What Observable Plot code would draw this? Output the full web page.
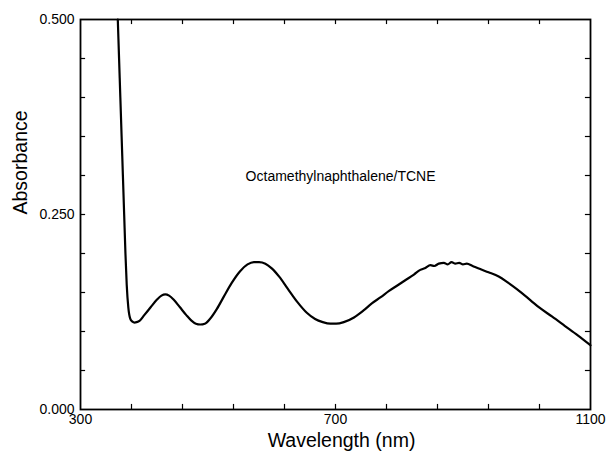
<!DOCTYPE html>
<html>
<head>
<meta charset="utf-8">
<script src="https://cdn.jsdelivr.net/npm/d3@7"></script>
<script src="https://cdn.jsdelivr.net/npm/@observablehq/plot@0.6"></script>
<style>
  html, body { margin: 0; padding: 0; background: #fff; }
  #chart svg { display: block; }
</style>
</head>
<body>
<div id="chart"></div>
<script>
// Spectrum (wavelength in nm, absorbance)
const wavelength = [
  358.5, 360.5, 362.5, 364.5, 366.5, 368.5, 370.5, 372.5, 375, 378, 381, 385, 388, 393,
  400, 410, 420, 427, 433, 439, 446, 456, 466, 474, 481, 488, 495, 503, 514,
  525, 537, 550, 562, 572, 580, 590, 600, 612, 625, 640, 655, 668, 680, 692,
  701, 713, 729, 744, 757, 771, 784, 797, 810, 823, 833, 840, 849, 855, 862,
  870, 876, 882, 888, 894, 900, 906, 915, 927, 940, 956, 970, 985, 1006, 1020,
  1040, 1060, 1080, 1100
];
const absorbance = [
  0.500, 0.450, 0.400, 0.350, 0.300, 0.250, 0.200, 0.160, 0.131, 0.1165, 0.113, 0.1115, 0.112, 0.114,
  0.121, 0.131, 0.141, 0.146, 0.1476, 0.146, 0.141, 0.131, 0.121, 0.114, 0.110, 0.109, 0.110, 0.116, 0.129,
  0.145, 0.162, 0.177, 0.186, 0.189, 0.189, 0.187, 0.181, 0.170, 0.155, 0.138, 0.124, 0.116, 0.112, 0.110,
  0.110, 0.112, 0.118, 0.127, 0.136, 0.144, 0.152, 0.159, 0.166, 0.173, 0.179, 0.181, 0.185, 0.184, 0.187,
  0.188, 0.186, 0.189, 0.187, 0.188, 0.186, 0.187, 0.184, 0.180, 0.176, 0.1706, 0.163, 0.154, 0.140, 0.1305,
  0.119, 0.107, 0.095, 0.0823
];

const xTickLabels = [300, 700, 1100];
const yTickLabels = [0, 0.25, 0.5];
const xMinorTicks = [380, 460, 540, 620, 700, 780, 860, 940, 1020];
const yMinorTicks = [0.05, 0.10, 0.15, 0.20, 0.25, 0.30, 0.35, 0.40, 0.45];

const xLabel = "Wavelength (nm)";
const yLabel = "Absorbance";
const annotation = { text: "Octamethylnaphthalene/TCNE", x: 559, y: 0.299 };

const data = wavelength.map((w, i) => ({ w, a: absorbance[i] }));

const font = "'Liberation Sans', Arial, Helvetica, sans-serif";

const chart = Plot.plot({
  width: 607,
  height: 453,
  marginLeft: 80,
  marginRight: 17,
  marginTop: 19,
  marginBottom: 44,
  style: { fontFamily: font, fontSize: "14px", color: "#000", background: "#fff" },
  x: { domain: [300, 1100] },
  y: { domain: [0, 0.5] },
  marks: [
    // inward minor ticks on all four sides
    Plot.ruleX(xMinorTicks, { x: d => d, y1: 0, y2: 0.0065, stroke: "#000", strokeWidth: 1.2 }),
    Plot.ruleX(xMinorTicks, { x: d => d, y1: 0.5, y2: 0.4935, stroke: "#000", strokeWidth: 1.2 }),
    Plot.ruleY(yMinorTicks, { y: d => d, x1: 300, x2: 308, stroke: "#000", strokeWidth: 1.2 }),
    Plot.ruleY(yMinorTicks, { y: d => d, x1: 1100, x2: 1092, stroke: "#000", strokeWidth: 1.2 }),
    Plot.frame({ stroke: "#000", strokeWidth: 1.8 }),
    Plot.axisX({ ticks: xTickLabels, tickSize: 0, tickPadding: 5, tickFormat: d3.format("d"), label: null, fontSize: 14 }),
    Plot.axisY({ ticks: yTickLabels, tickSize: 0, tickPadding: 6, tickFormat: d3.format(".3f"), label: null, fontSize: 14 }),
    Plot.line(data, { x: "w", y: "a", stroke: "#000", strokeWidth: 2.2, curve: "monotone-x" }),
    Plot.text([annotation], { x: "x", y: "y", text: "text", textAnchor: "start", lineAnchor: "middle", fontSize: 14, fill: "#000" }),
    Plot.text([xLabel], { frameAnchor: "bottom", dx: 6, dy: 31, lineAnchor: "middle", fontSize: 19.5, fill: "#000" }),
    Plot.text([yLabel], { frameAnchor: "left", dx: -60, rotate: -90, lineAnchor: "middle", fontSize: 19.5, fill: "#000" })
  ]
});

document.getElementById("chart").appendChild(chart);
</script>
</body>
</html>
